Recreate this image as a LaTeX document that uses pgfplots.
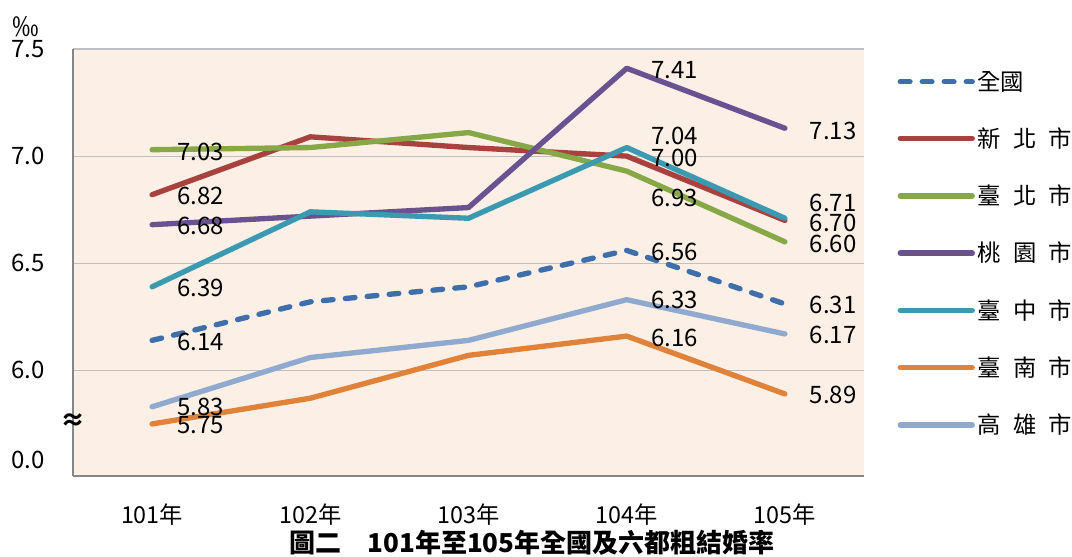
\documentclass[border=0pt]{standalone}
\usepackage{pgfplots}
\pgfplotsset{compat=1.18}
\usepackage{fontspec}
\setmainfont{Noto Sans CJK TC}
\usetikzlibrary{calc}
\definecolor{cqg}{HTML}{3F6FAB}
\definecolor{cxb}{HTML}{A8423F}
\definecolor{ctb}{HTML}{87A846}
\definecolor{cty}{HTML}{6A5290}
\definecolor{ctz}{HTML}{3B99B2}
\definecolor{ctn}{HTML}{E0823A}
\definecolor{cgx}{HTML}{8FA9CF}
\definecolor{cbg}{HTML}{FCEFE5}
\definecolor{cgrid}{HTML}{BFBFBF}
\definecolor{caxis}{HTML}{868686}
\newcommand{\gsp}{\hspace{0.53em}}
\begin{document}
\begin{tikzpicture}
\begin{axis}[
  name=ax,
  scale only axis,
  width=593.25pt, height=320.25pt,
  xmin=0.5, xmax=5.5, ymin=5.507, ymax=7.5,
  axis x line*=bottom, axis y line*=left,
  axis line style={-, draw=caxis, line width=1.2pt},
  axis background/.style={fill=cbg},
  xtick={1,2,3,4,5},
  xticklabels={101年,102年,103年,104年,105年},
  ytick={6,6.5,7,7.5},
  yticklabels={6.0,6.5,7.0,7.5},
  extra y ticks={5.58}, extra y tick labels={0.0},
  extra y tick style={grid=none},
  ymajorgrids, grid style={draw=cgrid, line width=0.9pt},
  major tick length=0pt,
  yticklabel style={font=\fontsize{18}{20}\selectfont, anchor=east, inner sep=0pt, xshift=-21pt},
  xticklabel style={font=\fontsize{17.5}{20}\selectfont, anchor=north, inner sep=0pt, yshift=-21pt},
  clip=false,
  every axis plot/.append style={line width=4pt, line join=round},
  legend style={at={(1,1)}, anchor=north west, xshift=25pt, yshift=-14.5pt,
    draw=none, fill=none, inner sep=0pt, row sep=22.6pt,
    font=\fontsize{17.5}{19}\selectfont, cells={anchor=west}},
  legend image code/.code={\draw[#1] (0pt,0pt) -- (54pt,0pt);},
]
\addplot[cqg, dash pattern=on 7.3pt off 9.2pt, line cap=round] coordinates {(1,6.14) (2,6.32) (3,6.39) (4,6.56) (5,6.31)};
\addlegendentry{全國}
\addplot[cxb, line cap=round] coordinates {(1,6.82) (2,7.09) (3,7.04) (4,7.00) (5,6.70)};
\addlegendentry{新\gsp 北\gsp 市}
\addplot[ctb, line cap=round] coordinates {(1,7.03) (2,7.04) (3,7.11) (4,6.93) (5,6.60)};
\addlegendentry{臺\gsp 北\gsp 市}
\addplot[cty, line cap=round] coordinates {(1,6.68) (2,6.72) (3,6.76) (4,7.41) (5,7.13)};
\addlegendentry{桃\gsp 園\gsp 市}
\addplot[ctz, line cap=round] coordinates {(1,6.39) (2,6.74) (3,6.71) (4,7.04) (5,6.71)};
\addlegendentry{臺\gsp 中\gsp 市}
\addplot[ctn, line cap=round] coordinates {(1,5.75) (2,5.87) (3,6.07) (4,6.16) (5,5.89)};
\addlegendentry{臺\gsp 南\gsp 市}
\addplot[cgx, line cap=round] coordinates {(1,5.83) (2,6.06) (3,6.14) (4,6.33) (5,6.17)};
\addlegendentry{高\gsp 雄\gsp 市}
% data labels
\tikzset{lbl/.style={anchor=west, inner sep=0pt, xshift=18.5pt, font=\fontsize{18}{20}\selectfont}}
\node[lbl, yshift=-1.5pt] at (axis cs:1,7.03) {7.03};
\node[lbl, yshift=-1pt] at (axis cs:1,6.82) {6.82};
\node[lbl, yshift=-1pt] at (axis cs:1,6.68) {6.68};
\node[lbl, yshift=-1pt] at (axis cs:1,6.39) {6.39};
\node[lbl, yshift=-1pt] at (axis cs:1,6.14) {6.14};
\node[lbl] at (axis cs:1,5.83) {5.83};
\node[lbl, yshift=-1pt] at (axis cs:1,5.75) {5.75};
\node[lbl, yshift=-1.5pt] at (axis cs:4,7.41) {7.41};
\node[lbl, yshift=8.5pt] at (axis cs:4,7.04) {7.04};
\node[lbl, yshift=-1.5pt] at (axis cs:4,7.00) {7.00};
\node[lbl, yshift=-20pt] at (axis cs:4,6.93) {6.93};
\node[lbl, yshift=-1.5pt] at (axis cs:4,6.56) {6.56};
\node[lbl] at (axis cs:4,6.33) {6.33};
\node[lbl, yshift=-1.5pt] at (axis cs:4,6.16) {6.16};
\node[lbl, yshift=-2pt] at (axis cs:5,7.13) {7.13};
\node[lbl, yshift=11.5pt] at (axis cs:5,6.71) {6.71};
\node[lbl, yshift=-2pt] at (axis cs:5,6.70) {6.70};
\node[lbl, yshift=-1.5pt] at (axis cs:5,6.60) {6.60};
\node[lbl, yshift=-1pt] at (axis cs:5,6.31) {6.31};
\node[lbl, yshift=-1pt] at (axis cs:5,6.17) {6.17};
\node[lbl, yshift=-1pt] at (axis cs:5,5.89) {5.89};
\node[inner sep=0pt, font=\fontsize{19}{20}\selectfont\bfseries] at (axis cs:0.5,5.76) {≈};
\end{axis}
\node[inner sep=0pt, font=\fontsize{20}{22}\selectfont] at ($(ax.north west)+(-35pt,17pt)$) {‰};
\node[inner sep=0pt, font=\fontsize{19.5}{21}\selectfont\bfseries] at ($(ax.south west)+(344.25pt,-50.25pt)$) {圖二\hspace{1em}101年至105年全國及六都粗結婚率};
\pgfresetboundingbox
\path[use as bounding box] ($(ax.south west)+(-54.75pt,-60pt)$) rectangle ($(ax.north east)+(156pt,36.75pt)$);
\end{tikzpicture}
\end{document}
